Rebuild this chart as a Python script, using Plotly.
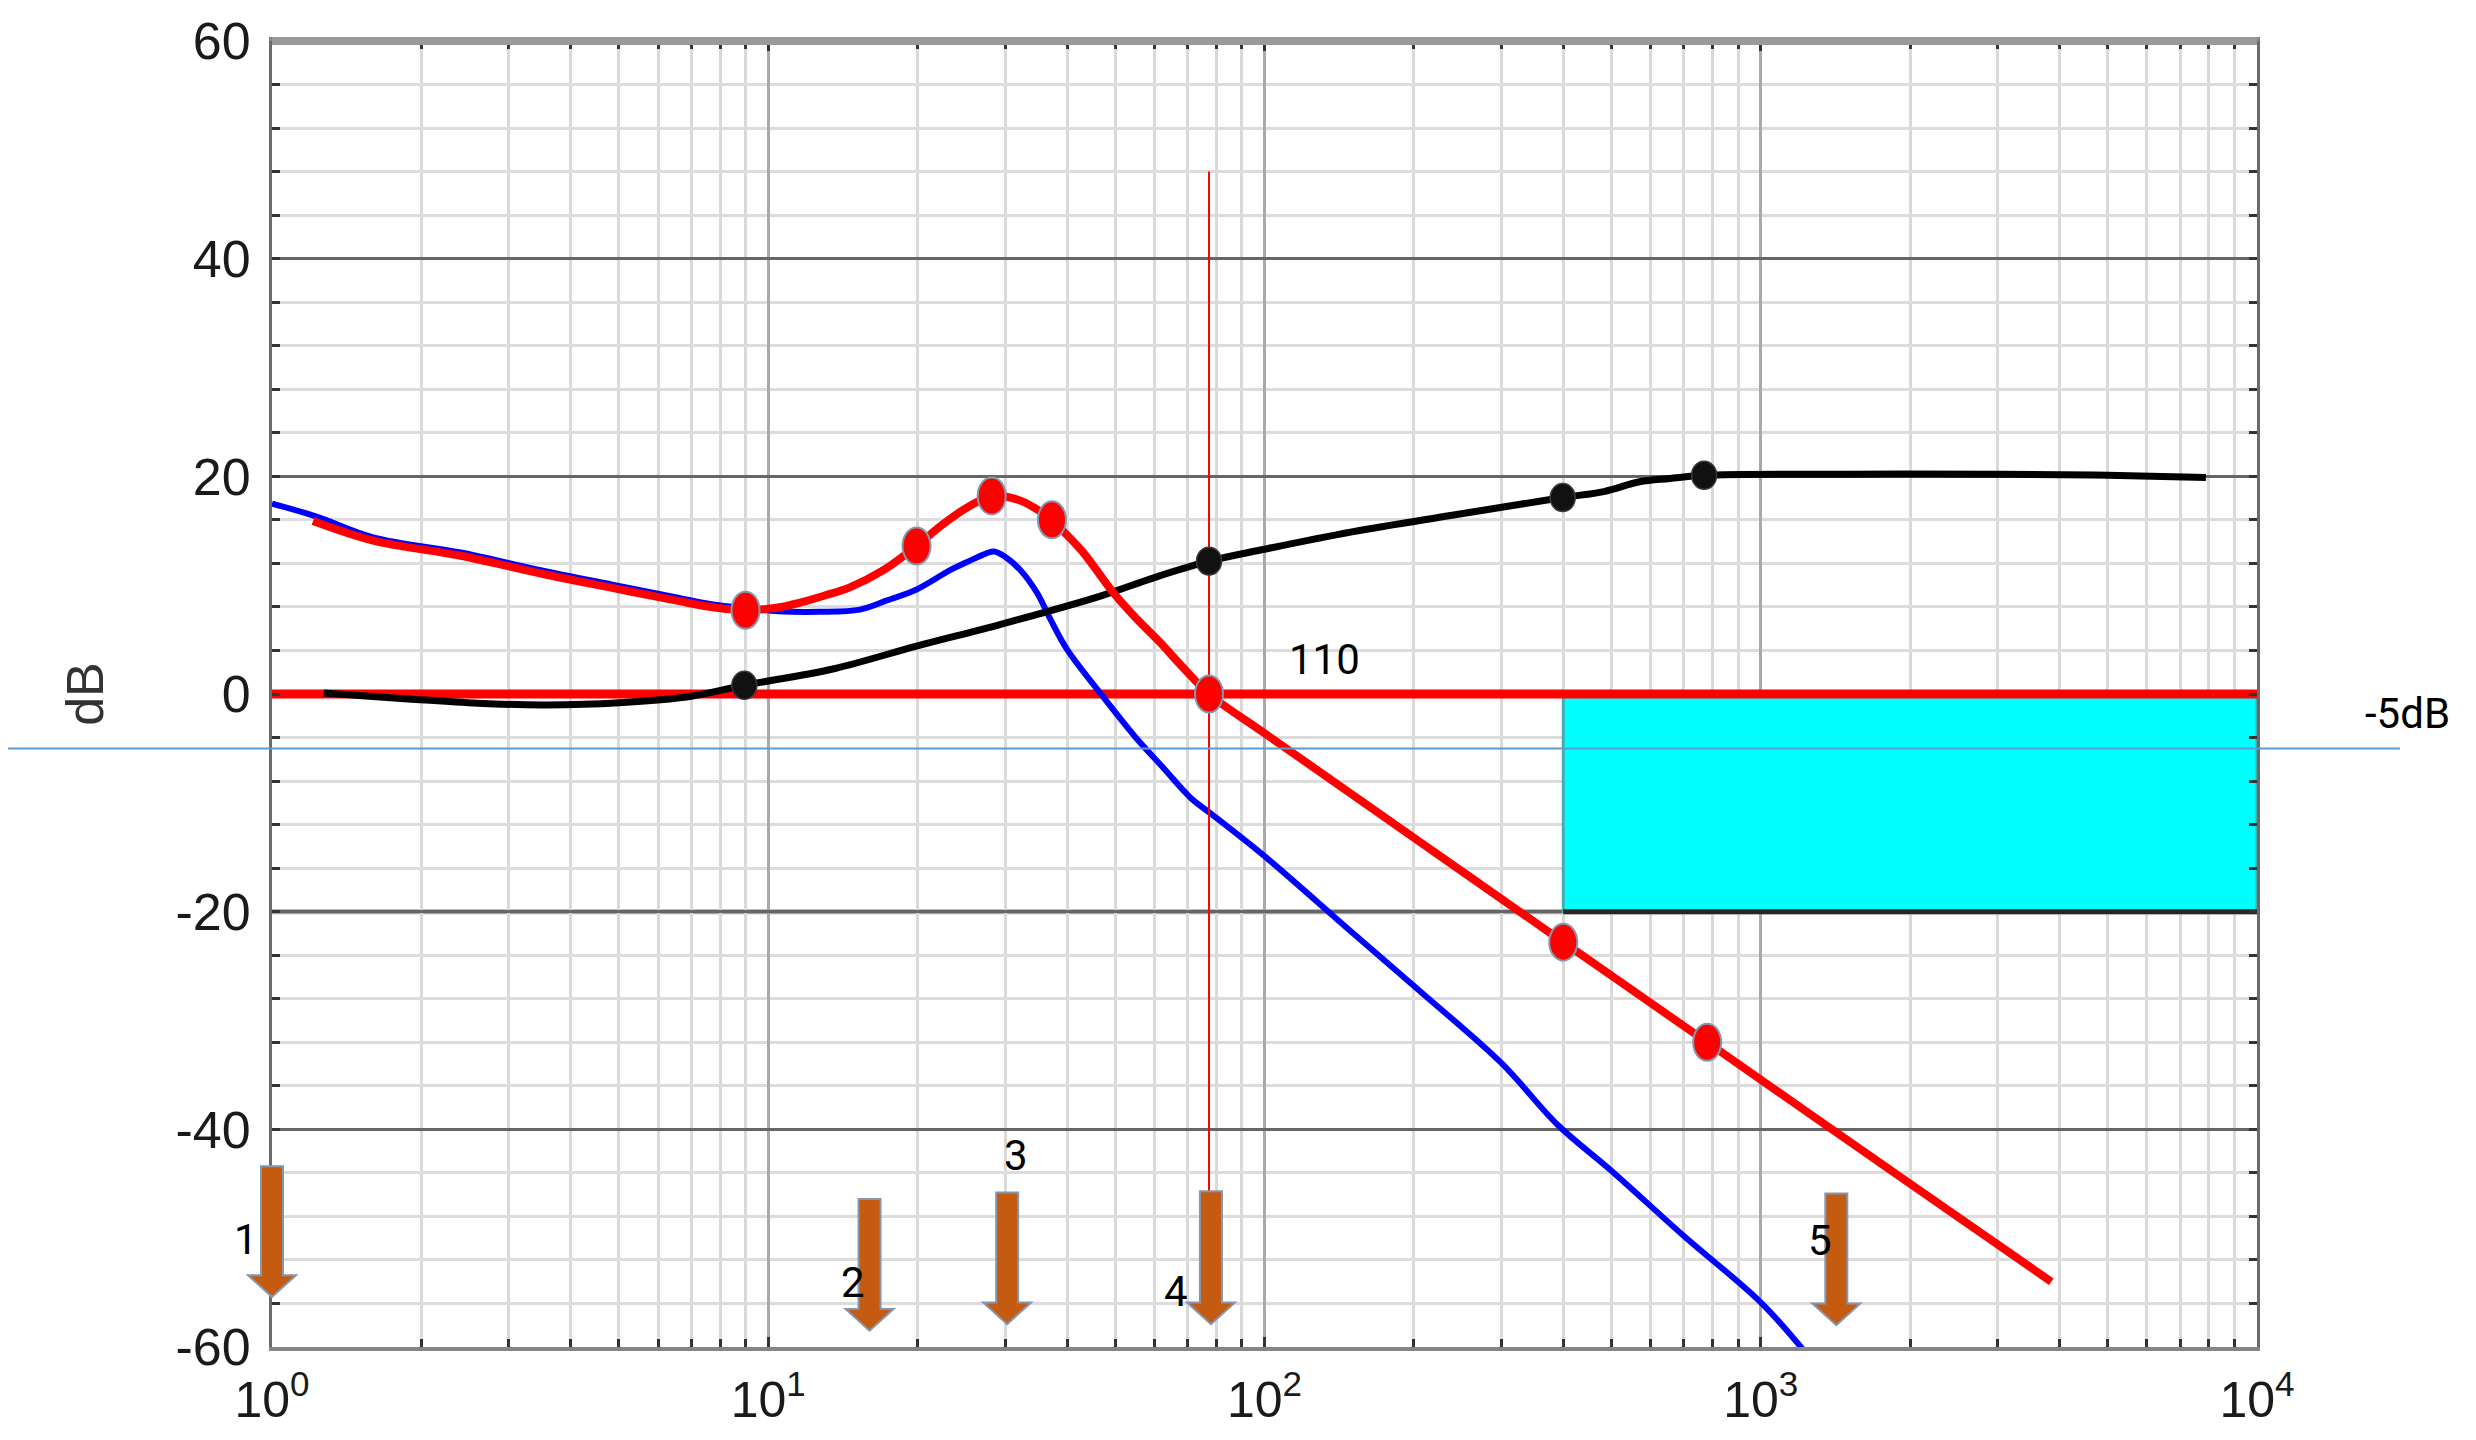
import numpy as np
import plotly.graph_objects as go

# ---------------- data ----------------
# Magnitude responses (frequency in Hz, gain in dB)
blue_freq = [1.0, 1.23, 1.6, 2.4, 3.5, 4.85, 6.5, 7.8, 9.0, 10.5, 12.7, 15.3, 17.35, 19.9,
             23.3, 25.1, 27.6, 28.5, 29.8, 32.2, 34.8, 37.0, 40.0, 45.9, 54.8, 62.0,
             71.2, 78.0, 100, 150, 208, 300, 390, 500, 700, 1000, 1230]
blue_db = [17.5, 16.3, 14.4, 13.0, 11.35, 10.05, 8.9, 8.2, 7.9, 7.6, 7.55, 7.75, 8.6, 9.6,
           11.4, 12.1, 12.95, 13.1, 12.7, 11.4, 9.3, 6.9, 4.1, 0.5, -3.9, -6.6,
           -9.6, -11.0, -14.9, -21.9, -27.5, -33.9, -39.6, -43.8, -49.8, -55.9, -60.5]

red_freq = [1.21, 1.6, 2.4, 3.5, 4.85, 6.5, 7.8, 9.0, 10.3, 11.6, 13.0, 14.6, 17.1, 19.9,
            22.2, 24.5, 26.5, 28.2, 30.0, 32.5, 35.0, 37.3, 40.0, 43.3, 49.6, 55.0, 61.7,
            68.0, 77.3, 100, 200, 400, 780, 2000, 3850]
red_db = [15.9, 14.1, 12.7, 11.05, 9.75, 8.6, 7.95, 7.7, 7.9, 8.4, 9.05, 9.8, 11.4, 13.6,
          15.4, 16.8, 17.7, 18.2, 18.15, 17.7, 16.9, 16.0, 14.6, 12.9, 9.3, 7.0, 4.7,
          2.6, 0.0, -3.6, -13.2, -22.8, -32.0, -45.0, -54.0]

black_freq = [1.27, 1.88, 2.6, 3.57, 5.0, 7.0, 8.95, 13.5, 19.9, 29.4, 46.7, 60.0, 77.3,
              100, 150, 237, 399, 483, 570, 656, 769, 1500, 3000, 5000, 7890]
black_db = [0.1, -0.45, -0.85, -1.0, -0.8, -0.2, 0.8, 2.3, 4.4, 6.4, 9.0, 10.7, 12.2,
            13.3, 14.9, 16.4, 18.05, 18.6, 19.5, 19.8, 20.1, 20.2, 20.2, 20.1, 19.9]

# highlighted points on the curves
red_pts_freq = [9.0, 19.9, 28.2, 37.3, 77.3, 400, 780]
red_pts_db = [7.7, 13.6, 18.2, 16.0, 0.0, -22.8, -32.0]
black_pts_freq = [8.95, 77.3, 399, 769]
black_pts_db = [0.8, 12.2, 18.05, 20.1]

# 0 dB reference and crossover cursor
ref_level_db = 0
freq_span = [1, 10000]
cursor_freq = 77.3
cursor_db = [-45.7, 48.0]

# -5 dB threshold and forbidden region
threshold_db = -5
zone_freq = [400, 10000]
zone_db = [-20, 0]

# numbered frequency arrows
arrow_freq = [1.0, 16.0, 30.3, 78.0, 1420]
arrow_labels = ["1", "2", "3", "4", "5"]
arrow_top_db = [-43.4, -46.4, -45.8, -45.7, -45.9]
arrow_tip_db = [-55.4, -58.5, -57.9, -57.9, -58.0]
arrow_label_db = [-50.1, -54.1, -42.4, -54.9, -50.2]
arrow_label_dx = [-26, -17, 9, -35, -16]

crossover_text = "110"
crossover_text_pos = (132, 3.2)

x_ticks = [1, 10, 100, 1000, 10000]
x_tick_text = ["10<sup>0</sup>", "10<sup>1</sup>", "10<sup>2</sup>", "10<sup>3</sup>", "10<sup>4</sup>"]
y_ticks = [-60, -40, -20, 0, 20, 40, 60]
y_tick_text = ["-60", "-40", "-20", "0", "20", "40", "60"]

LOG_RANGE = [0, 4]


def paper_x(freq):
    """Horizontal paper position of a frequency on the log axis."""
    return float((np.log10(freq) - LOG_RANGE[0]) / (LOG_RANGE[1] - LOG_RANGE[0]))


# ---------------- figure ----------------
fig = go.Figure()

SPLINE = dict(shape="spline", smoothing=1.0)

# 0 dB reference line
fig.add_trace(go.Scatter(x=freq_span, y=[ref_level_db, ref_level_db], mode="lines",
                         line=dict(color="#ff0000", width=9), hoverinfo="skip"))
# blue response
fig.add_trace(go.Scatter(x=blue_freq, y=blue_db, mode="lines",
                         line=dict(color="#0000ff", width=6, **SPLINE), hoverinfo="skip"))
# black response
fig.add_trace(go.Scatter(x=black_freq, y=black_db, mode="lines",
                         line=dict(color="#000000", width=7, **SPLINE), hoverinfo="skip"))
# red response
fig.add_trace(go.Scatter(x=red_freq, y=red_db, mode="lines",
                         line=dict(color="#ff0000", width=8, **SPLINE), hoverinfo="skip"))
# crossover cursor
fig.add_trace(go.Scatter(x=[cursor_freq, cursor_freq], y=cursor_db, mode="lines",
                         line=dict(color="#ff0000", width=2), hoverinfo="skip"))

shapes = []

# lighter -20 dB gridline
shapes.append(dict(type="line", xref="paper", yref="y", x0=0, x1=1,
                   y0=zone_db[0], y1=zone_db[0], layer="between",
                   line=dict(color="#a4a4a4", width=5)))

# forbidden region
shapes.append(dict(type="rect", xref="x", yref="y", x0=zone_freq[0], x1=zone_freq[1],
                   y0=zone_db[0], y1=zone_db[1], layer="between",
                   fillcolor="#00ffff", line=dict(color="#45adad", width=3)))
shapes.append(dict(type="line", xref="x", yref="y", x0=zone_freq[0], x1=zone_freq[1],
                   y0=zone_db[0], y1=zone_db[0], layer="between",
                   line=dict(color="#262626", width=5)))

# thick top frame
shapes.append(dict(type="line", xref="paper", yref="paper", x0=0, x1=1, y0=1, y1=1,
                   layer="above", line=dict(color="#9a9a9a", width=8)))

# -5 dB threshold line, running past the plot edges
shapes.append(dict(type="line", xref="paper", yref="y", x0=-0.133, x1=1.072,
                   y0=threshold_db, y1=threshold_db, layer="above",
                   line=dict(color="#5b9bd5", width=2)))

# ellipse markers on the curves
for f, d in zip(red_pts_freq, red_pts_db):
    shapes.append(dict(type="circle", xref="paper", yref="y", xsizemode="pixel",
                       ysizemode="pixel", xanchor=paper_x(f), yanchor=d,
                       x0=-14, x1=14, y0=-18.5, y1=18.5, layer="above",
                       fillcolor="#ff0000", line=dict(color="#8497b0", width=2)))
for f, d in zip(black_pts_freq, black_pts_db):
    shapes.append(dict(type="circle", xref="paper", yref="y", xsizemode="pixel",
                       ysizemode="pixel", xanchor=paper_x(f), yanchor=d,
                       x0=-12.5, x1=12.5, y0=-14, y1=14, layer="above",
                       fillcolor="#111111", line=dict(color="#3a3a3a", width=1.5)))

# block arrows (x in pixels around the arrow frequency, y in dB)
for f, top, tip in zip(arrow_freq, arrow_top_db, arrow_tip_db):
    neck = tip + 2.0
    path = (f"M -11,{top} L 11,{top} L 11,{neck} L 24,{neck} L 0,{tip} "
            f"L -24,{neck} L -11,{neck} Z")
    shapes.append(dict(type="path", xref="paper", yref="y", xsizemode="pixel",
                       xanchor=paper_x(f), path=path, layer="above",
                       fillcolor="#c55a11", line=dict(color="#8497b0", width=2)))

annotations = []
label_font = dict(family="Roboto, sans-serif", size=42, color="#000000")
for f, lab, d, dx in zip(arrow_freq, arrow_labels, arrow_label_db, arrow_label_dx):
    annotations.append(dict(x=float(np.log10(f)), y=d, xref="x", yref="y", text=lab,
                            showarrow=False, xshift=dx, font=label_font,
                            xanchor="center", yanchor="middle"))
annotations.append(dict(x=float(np.log10(crossover_text_pos[0])), y=crossover_text_pos[1],
                        xref="x", yref="y", text=crossover_text, showarrow=False,
                        font=label_font, xanchor="center", yanchor="middle"))
annotations.append(dict(x=1.076, y=threshold_db, xref="paper", yref="y", text="-5dB",
                        showarrow=False, yshift=35, font=label_font,
                        xanchor="center", yanchor="middle"))

fig.update_layout(
    width=2476, height=1440,
    margin=dict(l=272, r=219, t=34, b=90),
    paper_bgcolor="white", plot_bgcolor="white",
    showlegend=False,
    shapes=shapes,
    annotations=annotations,
    font=dict(family="Liberation Sans, Arial, sans-serif", color="#1a1a1a"),
)

fig.update_xaxes(
    type="log", range=LOG_RANGE,
    tickvals=x_ticks, ticktext=x_tick_text,
    tickfont=dict(size=50, family="Liberation Sans, Arial, sans-serif", color="#1a1a1a"),
    showgrid=True, gridcolor="#a9a9a9", gridwidth=3,
    ticks="inside", ticklen=10, tickwidth=3, tickcolor="#333333",
    minor=dict(dtick="D1", showgrid=True, gridcolor="#d9d9d9", gridwidth=3,
               ticks="inside", ticklen=8, tickwidth=3, tickcolor="#333333"),
    showline=True, linecolor="#858585", linewidth=4, mirror="allticks",
    zeroline=False, ticklabelstandoff=6,
)
fig.update_yaxes(
    range=[-60, 60], tickvals=y_ticks, ticktext=y_tick_text,
    tickfont=dict(size=52, family="Liberation Sans, Arial, sans-serif", color="#1a1a1a"),
    showgrid=True, gridcolor="#666666", gridwidth=3,
    ticks="inside", ticklen=8, tickwidth=3, tickcolor="#333333",
    minor=dict(dtick=4, showgrid=True, gridcolor="#dcdcdc", gridwidth=3,
               ticks="inside", ticklen=8, tickwidth=3, tickcolor="#333333"),
    showline=True, linecolor="#6a6a6a", linewidth=3, mirror="allticks",
    zeroline=False, ticklabelstandoff=8,
    title=dict(text="dB", font=dict(size=52, family="Liberation Sans, Arial, sans-serif",
                                    color="#333333"), standoff=56),
)

fig.write_html("out.html")
